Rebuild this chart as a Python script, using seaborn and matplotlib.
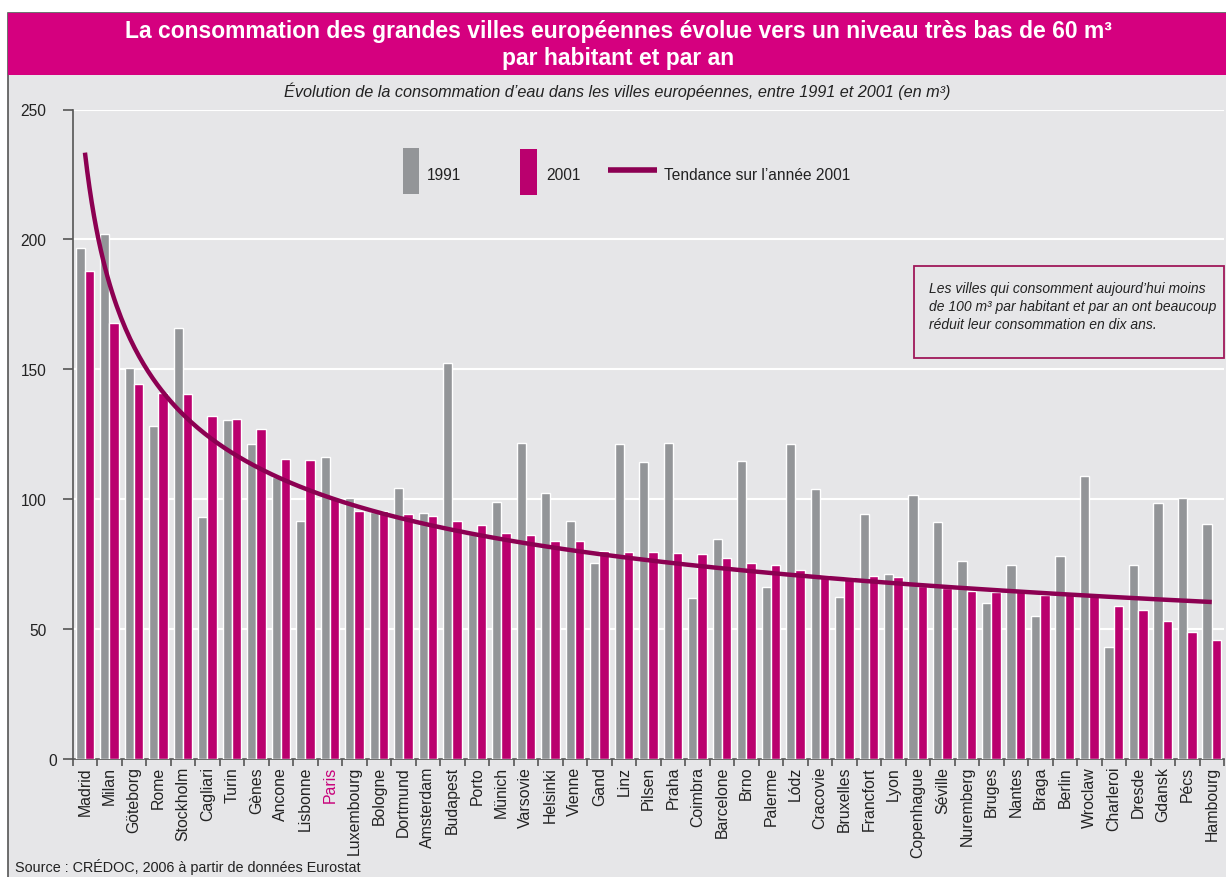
import numpy as np
import pandas as pd
import matplotlib
matplotlib.use("Agg")
import matplotlib.pyplot as plt
from matplotlib.patches import Rectangle
from matplotlib.lines import Line2D
from matplotlib import font_manager as fm
from matplotlib.transforms import ScaledTranslation
import seaborn as sns

# ---------------- data ----------------
villes = ["Madrid", "Milan", "Göteborg", "Rome", "Stockholm", "Cagliari", "Turin", "Gènes",
          "Ancone", "Lisbonne", "Paris", "Luxembourg", "Bologne", "Dortmund", "Amsterdam",
          "Budapest", "Porto", "Münich", "Varsovie", "Helsinki", "Vienne", "Gand", "Linz",
          "Pilsen", "Praha", "Coimbra", "Barcelone", "Brno", "Palerme", "Lódz", "Cracovie",
          "Bruxelles", "Francfort", "Lyon", "Copenhague", "Séville", "Nuremberg", "Bruges",
          "Nantes", "Braga", "Berlin", "Wroclaw", "Charleroi", "Dresde", "Gdansk", "Pécs",
          "Hambourg"]
conso_1991 = [196.5, 202, 150.6, 128, 166, 93, 130.4, 121.2, 108.6, 91.8, 116.4, 100.5, 95,
              104.4, 94.8, 152.4, 86.7, 98.8, 121.6, 102.2, 91.8, 75.3, 121.2, 114.2, 121.6,
              62, 84.6, 114.6, 66.3, 121.2, 104, 62.3, 94.4, 71.2, 101.7, 91.3, 76.1, 60.2,
              74.5, 55, 78.3, 109, 43.3, 74.5, 98.6, 100.4, 90.4]
conso_2001 = [188, 168, 144.5, 141, 140.6, 132, 130.8, 127.2, 115.6, 115.2, 100.5, 95.6, 95.5,
              94.4, 93.6, 91.8, 90.1, 87, 86.3, 84, 84, 80.2, 79.8, 79.8, 79.3, 78.8, 77.3,
              75.3, 74.6, 72.9, 71, 70, 70.6, 70, 66.4, 65.9, 64.6, 64.2, 64.6, 63.3, 63.8,
              63, 58.7, 57.5, 53.2, 48.9, 45.9]
annees = ["1991", "2001"]
y_ticks = [0, 50, 100, 150, 200, 250]

titre = "La consommation des grandes villes européennes évolue vers un niveau très bas de 60 m³\npar habitant et par an"
sous_titre = "Évolution de la consommation d’eau dans les villes européennes, entre 1991 et 2001 (en m³)"
legende_tendance = "Tendance sur l’année 2001"
encadre = ("Les villes qui consomment aujourd’hui moins\n"
           "de 100 m³ par habitant et par an ont beaucoup\n"
           "réduit leur consommation en dix ans.")
source = "Source : CRÉDOC, 2006 à partir de données Eurostat"

# ---------------- style ----------------
GRAY = "#939598"
PINK = "#BA006E"
TREND = "#8C0052"
BAND = "#D5007F"
BG = "#E6E6E8"

sns.set_theme(style="white")
names = {f.name for f in fm.fontManager.ttflist}
NARROW = "Liberation Sans Narrow" if "Liberation Sans Narrow" in names else "Liberation Sans"
k = 1.0 if NARROW == "Liberation Sans Narrow" else 0.86
plt.rcParams["font.family"] = [NARROW, "DejaVu Sans"]

W, H = 1226, 878
fig = plt.figure(figsize=(W / 100, H / 100), dpi=100, facecolor=BG)

def fx(px):
    return px / W

def fy(py):
    return 1 - py / H

# frame + title band
fig.patches.append(Rectangle((fx(0), fy(878)), 1, fy(0) - fy(878), transform=fig.transFigure,
                             facecolor="white", edgecolor="none", zorder=-3))
fig.patches.append(Rectangle((fx(8), fy(900)), fx(1240) - fx(8), fy(14) - fy(900),
                             transform=fig.transFigure, facecolor=BG, edgecolor="#555555",
                             lw=1.2, zorder=-2))
fig.patches.append(Rectangle((fx(8), fy(76)), fx(1240) - fx(8), fy(14) - fy(76),
                             transform=fig.transFigure, facecolor=BAND, edgecolor="none", zorder=-1))
fig.text(fx(618), fy(45), titre, ha="center", va="center", color="white",
         fontsize=16.5, fontweight="bold", family=["Liberation Sans", "DejaVu Sans"],
         linespacing=1.25)
fig.text(fx(617), fy(91), sous_titre, ha="center", va="center", color="#222222",
         fontsize=11.7, style="italic")

# axes
ax = fig.add_axes([fx(72.7), fy(760), fx(1224) - fx(72.7), fy(110.5) - fy(760)])
ax.set_facecolor(BG)

df = pd.DataFrame({
    "ville": villes * 2,
    "annee": [annees[0]] * len(villes) + [annees[1]] * len(villes),
    "conso": conso_1991 + conso_2001,
})
sns.barplot(data=df, x="ville", y="conso", hue="annee", order=villes, hue_order=annees,
            palette={"1991": GRAY, "2001": PINK}, width=0.76, gap=0, errorbar=None,
            saturation=1, legend=False, ax=ax, zorder=3)

# trend (power fit on 2001 data, as a spreadsheet power trendline)
xs = np.arange(1, len(villes) + 1)
b, a = np.polyfit(np.log(xs), np.log(conso_2001), 1)
xf = np.linspace(1, len(villes), 500)
ax.plot(xf - 1, np.exp(a) * xf ** b, color=TREND, lw=3.2, zorder=4, solid_capstyle="butt")

ax.set_xlim(-0.5, len(villes) - 0.5)
ax.set_ylim(0, 250)
ax.set_yticks(y_ticks)
ax.yaxis.grid(True, color="white", lw=1.5, zorder=0)
ax.set_axisbelow(True)
ax.set_xlabel("")
ax.set_ylabel("")
for s in ["top", "right"]:
    ax.spines[s].set_visible(False)
for s in ["left", "bottom"]:
    ax.spines[s].set_color("#555555")
    ax.spines[s].set_linewidth(1.2)
ax.tick_params(axis="y", length=7, width=1.2, color="#555555", labelsize=13 * k,
               labelcolor="#222222", pad=12, left=True)
ax.set_xticks(range(len(villes)))
ax.set_xticklabels(villes, rotation=90, fontsize=13.3 * k, color="#222222")
ax.set_xticks(np.arange(-0.5, len(villes), 1), minor=True)
ax.tick_params(axis="x", which="major", length=0, pad=5, bottom=True)
ax.tick_params(axis="x", which="minor", length=5, width=1.2, color="#555555", bottom=True)
for t in ax.get_xticklabels():
    if t.get_text() == "Paris":
        t.set_color("#C8007A")
fig.canvas.draw()
for t in ax.get_yticklabels():
    if t.get_text() == "0":
        t.set_transform(t.get_transform() + ScaledTranslation(0.11, 0, fig.dpi_scale_trans))

# legend (manual)
fig.patches.append(Rectangle((fx(403), fy(195)), fx(419) - fx(403), fy(149) - fy(195),
                             transform=fig.transFigure, facecolor=GRAY, edgecolor="none"))
fig.text(fx(427), fy(176), annees[0], ha="left", va="center", fontsize=13 * k, color="#222222")
fig.patches.append(Rectangle((fx(519.5), fy(196)), fx(536.5) - fx(519.5), fy(150) - fy(196),
                             transform=fig.transFigure, facecolor=PINK, edgecolor="none"))
fig.text(fx(546), fy(176), annees[1], ha="left", va="center", fontsize=13 * k, color="#222222")
fig.lines.append(Line2D([fx(608), fx(657)], [fy(171), fy(171)], transform=fig.transFigure,
                        color=TREND, lw=4, solid_capstyle="butt"))
fig.text(fx(664), fy(176), legende_tendance, ha="left", va="center", fontsize=13 * k,
         color="#222222")

# annotation box
fig.patches.append(Rectangle((fx(914), fy(359)), fx(1224) - fx(914), fy(267) - fy(359),
                             transform=fig.transFigure, facecolor="none", edgecolor="#A0185A",
                             lw=1.3))
fig.text(fx(929), fy(282), encadre, ha="left", va="top", fontsize=11.6 * k, style="italic",
         color="#222222", linespacing=1.38)

# source
fig.text(fx(15), fy(872), source, ha="left", va="baseline", fontsize=12 * k, color="#222222")

fig.savefig("out.png", dpi=100, facecolor=fig.get_facecolor())
